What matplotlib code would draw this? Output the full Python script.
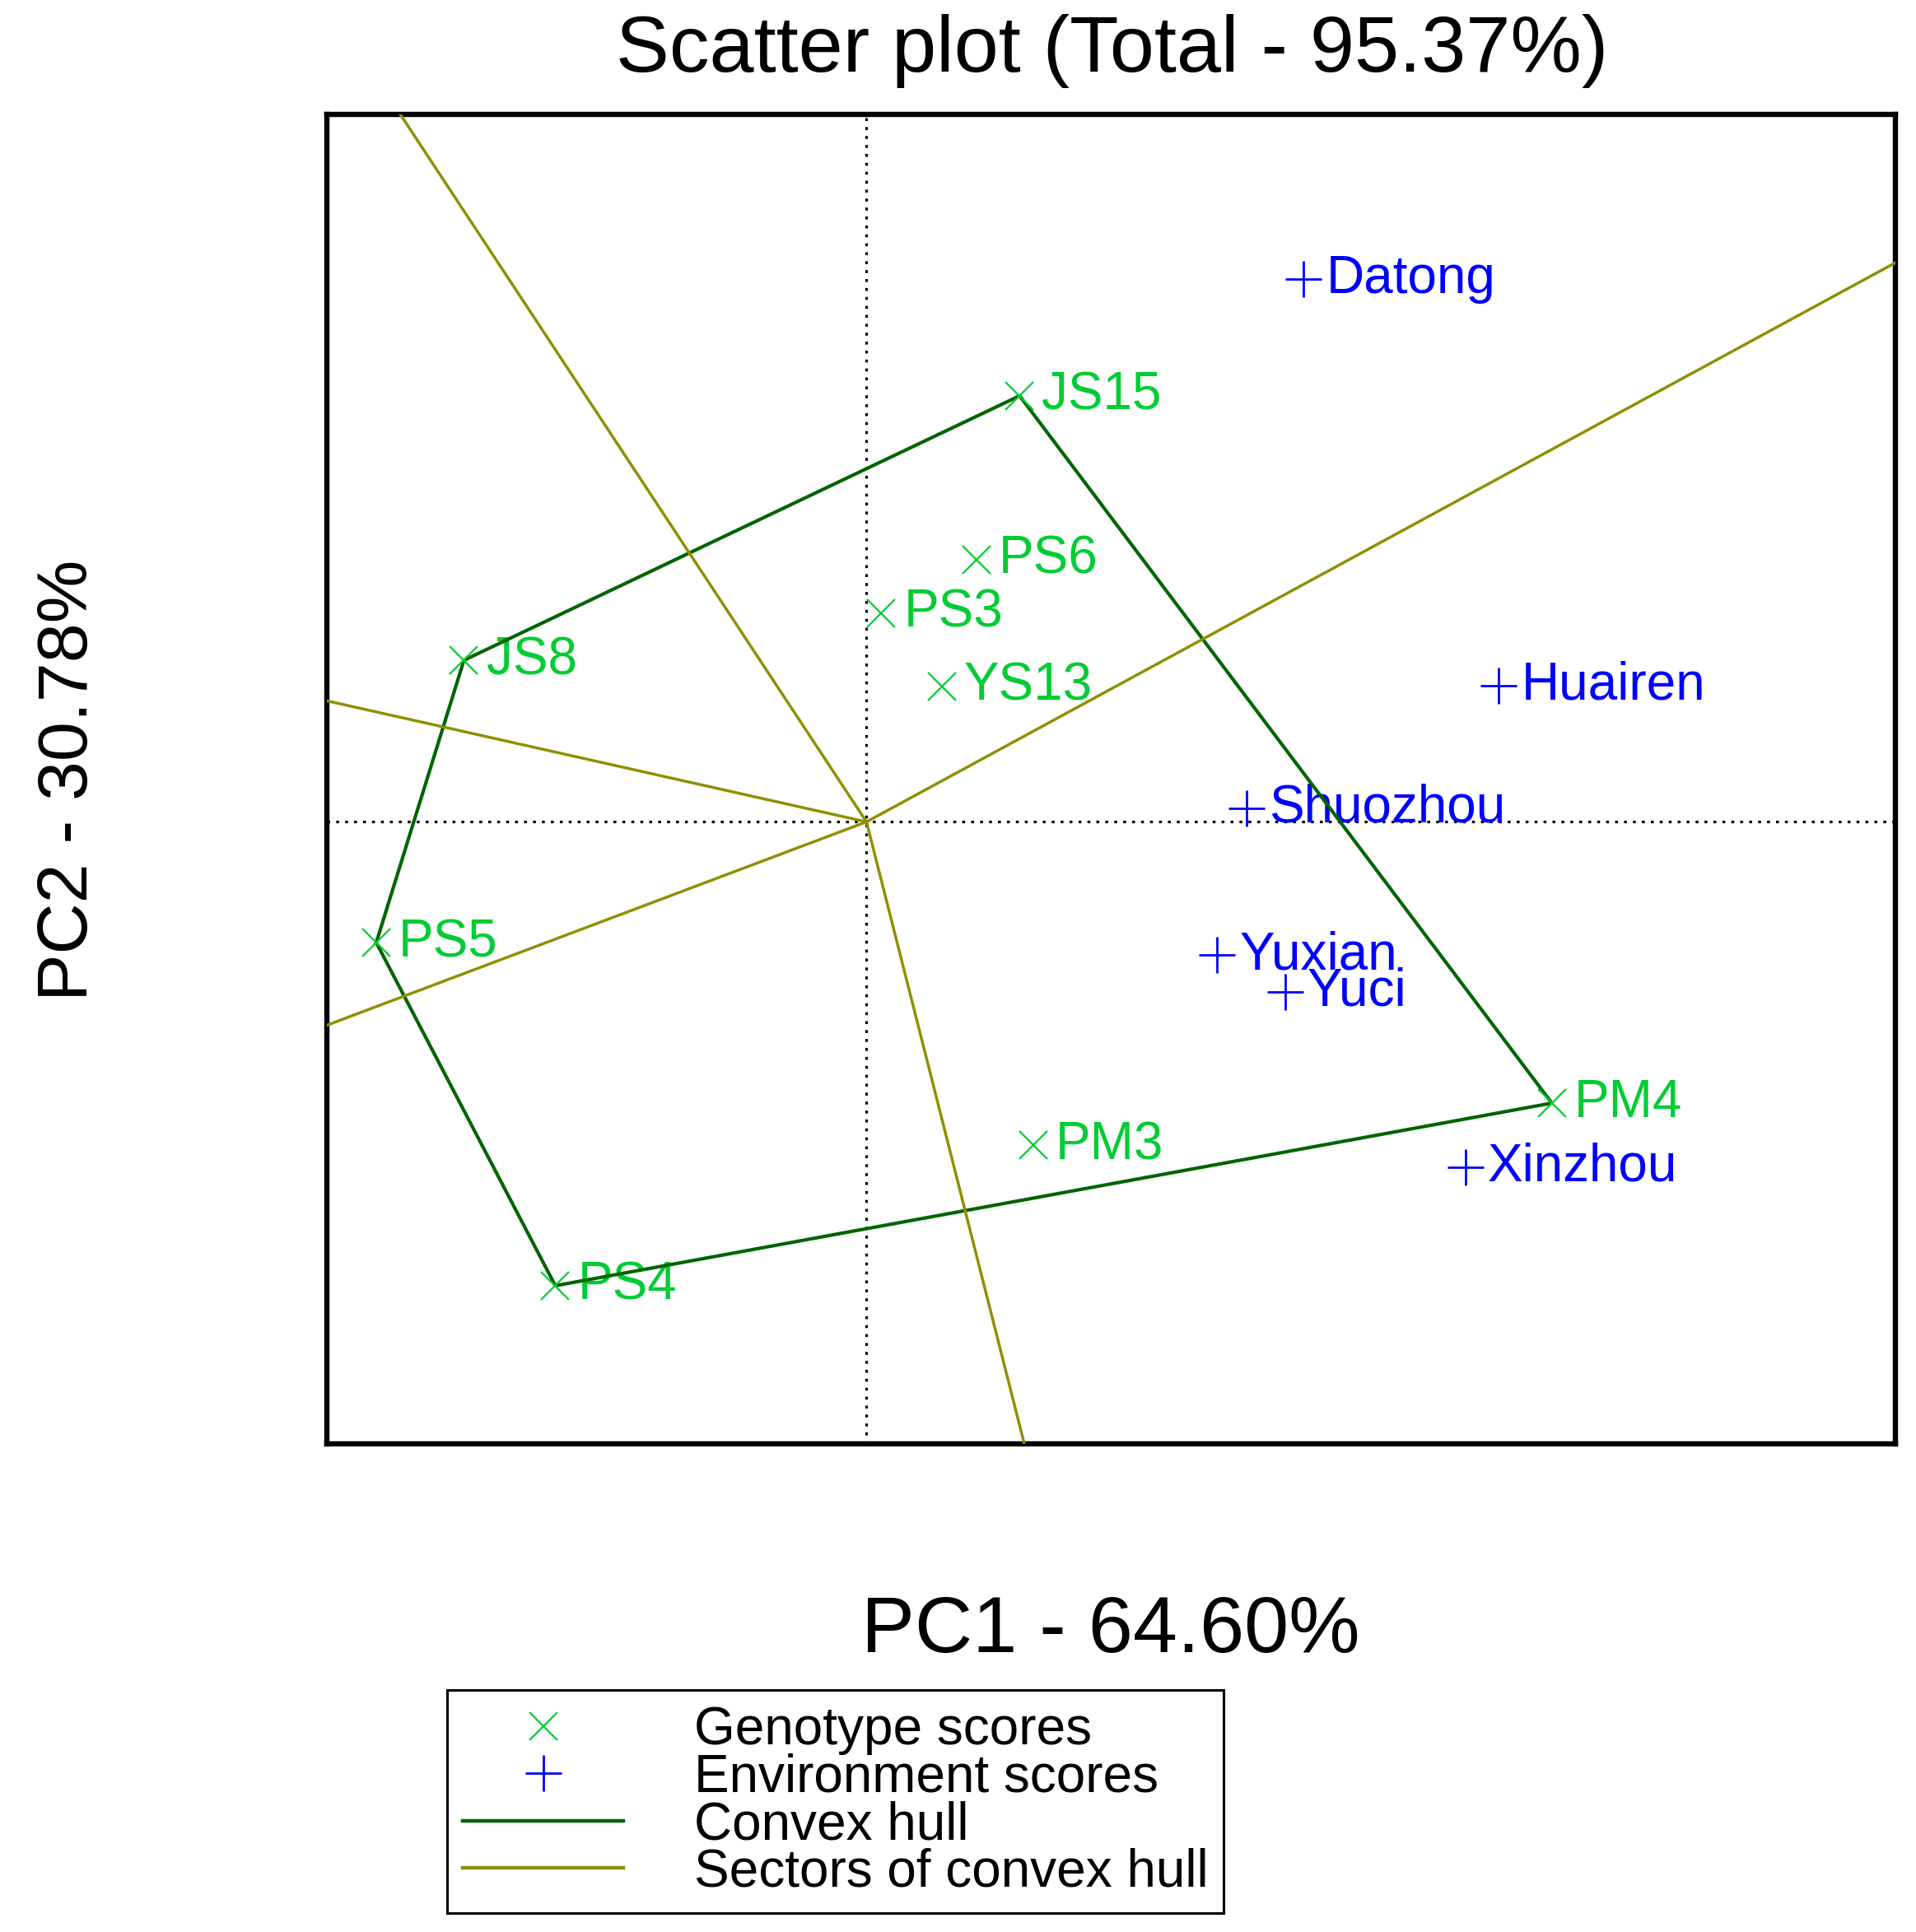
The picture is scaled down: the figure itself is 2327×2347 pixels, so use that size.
import numpy as np
import matplotlib
matplotlib.use("Agg")
import matplotlib.pyplot as plt
from matplotlib.lines import Line2D

plt.rcParams['font.family'] = ['Liberation Sans', 'DejaVu Sans']

# ---------------- data (biplot scores) ----------------
genotypes = ['JS15', 'PS6', 'PS3', 'YS13', 'JS8', 'PS5', 'PS4', 'PM3', 'PM4']
gen_pc1 = [1.24, 0.89, 0.12, 0.61, -3.26, -3.97, -2.52, 1.35, 5.55]
gen_pc2 = [4.06, 2.50, 1.99, 1.29, 1.54, -1.15, -4.42, -3.08, -2.68]

environments = ['Datong', 'Huairen', 'Shuozhou', 'Yuxian', 'Yuci', 'Xinzhou']
env_pc1 = [3.54, 5.12, 3.08, 2.84, 3.39, 4.85]
env_pc2 = [5.17, 1.30, 0.13, -1.27, -1.62, -3.29]

title_text = "Scatter plot (Total - 95.37%)"
xlabel_text = "PC1 - 64.60%"
ylabel_text = "PC2 - 30.78%"
legend_labels = ["Genotype scores", "Environment scores", "Convex hull",
                 "Sectors of convex hull"]

xlim = (-4.37, 8.33)
ylim = (-5.93, 6.74)

# ---------------- styles ----------------
GEN_COL = '#00CC33'
ENV_COL = '#0000FF'
HULL_COL = '#006400'
SECT_COL = '#8F8F00'
LAB_FS = 46


def convex_hull(points):
    pts = sorted(set(points))
    if len(pts) <= 2:
        return pts

    def cross(o, a, b):
        return (a[0] - o[0]) * (b[1] - o[1]) - (a[1] - o[1]) * (b[0] - o[0])

    lower = []
    for p in pts:
        while len(lower) >= 2 and cross(lower[-2], lower[-1], p) <= 0:
            lower.pop()
        lower.append(p)
    upper = []
    for p in reversed(pts):
        while len(upper) >= 2 and cross(upper[-2], upper[-1], p) <= 0:
            upper.pop()
        upper.append(p)
    return lower[:-1] + upper[:-1]


fig = plt.figure(figsize=(23.27, 23.47), dpi=100)
ax = fig.add_axes([0.1706, 0.2525, 0.9891 - 0.1706, 0.9407 - 0.2525])
ax.set_xlim(*xlim)
ax.set_ylim(*ylim)
ax.set_xticks([])
ax.set_yticks([])
for s in ax.spines.values():
    s.set_linewidth(4.6)
    s.set_color('black')

# reference axes through origin
ax.axhline(0, color='black', lw=2.3, linestyle=(0, (1.1, 2.3)), zorder=1)
ax.axvline(0, color='black', lw=2.3, linestyle=(0, (1.1, 2.3)), zorder=1)

# genotype points and labels
ax.plot(gen_pc1, gen_pc2, linestyle='none', marker='x', markersize=24,
        markeredgewidth=1.6, color=GEN_COL, zorder=4)
for name, x, y in zip(genotypes, gen_pc1, gen_pc2):
    ax.annotate(name, (x, y), xytext=(19.5, 0), textcoords='offset points',
                ha='left', va='center', fontsize=LAB_FS, color=GEN_COL,
                zorder=2)

# environment points and labels
ax.plot(env_pc1, env_pc2, linestyle='none', marker='+', markersize=32,
        markeredgewidth=2.0, color=ENV_COL, zorder=4)
for name, x, y in zip(environments, env_pc1, env_pc2):
    ax.annotate(name, (x, y), xytext=(19.5, 0), textcoords='offset points',
                ha='left', va='center', fontsize=LAB_FS, color=ENV_COL,
                zorder=2)

# convex hull of genotypes
hull = convex_hull(list(zip(gen_pc1, gen_pc2)))
hx = [p[0] for p in hull] + [hull[0][0]]
hy = [p[1] for p in hull] + [hull[0][1]]
ax.plot(hx, hy, color=HULL_COL, lw=3.0, zorder=3)

# sectors: perpendiculars from origin to each hull edge
for i in range(len(hull)):
    p = np.array(hull[i])
    q = np.array(hull[(i + 1) % len(hull)])
    d = q - p
    t = -np.dot(p, d) / np.dot(d, d)
    foot = p + t * d
    direc = foot / np.linalg.norm(foot)
    far = direc * 100.0
    ax.plot([0, far[0]], [0, far[1]], color=SECT_COL, lw=2.5, zorder=3)

# titles
fig.text(1351 / 2327, 1 - 87 / 2347, title_text, ha='center', va='baseline',
         fontsize=70)
fig.text(1349 / 2327, 1 - 2007 / 2347, xlabel_text, ha='center',
         va='baseline', fontsize=70)
fig.text(106 / 2327, 1 - 948 / 2347, ylabel_text, ha='center',
         va='baseline', rotation=90, rotation_mode='anchor', fontsize=62)

# legend
handles = [
    Line2D([], [], linestyle='none', marker='x', markersize=24,
           markeredgewidth=1.6, color=GEN_COL),
    Line2D([], [], linestyle='none', marker='+', markersize=32,
           markeredgewidth=2.0, color=ENV_COL),
    Line2D([], [], color=HULL_COL, lw=3.2),
    Line2D([], [], color=SECT_COL, lw=3.2),
]
leg = fig.legend(handles, legend_labels, loc='upper left',
                 bbox_to_anchor=(543 / 2327, 1 - 2053 / 2347),
                 borderaxespad=0, frameon=True, fancybox=False,
                 edgecolor='black', framealpha=1, fontsize=LAB_FS,
                 handlelength=3.05, handletextpad=1.34, labelspacing=-0.04,
                 borderpad=0.3, numpoints=1)
leg.get_frame().set_linewidth(2.2)

fig.savefig('out.png', dpi=100)
